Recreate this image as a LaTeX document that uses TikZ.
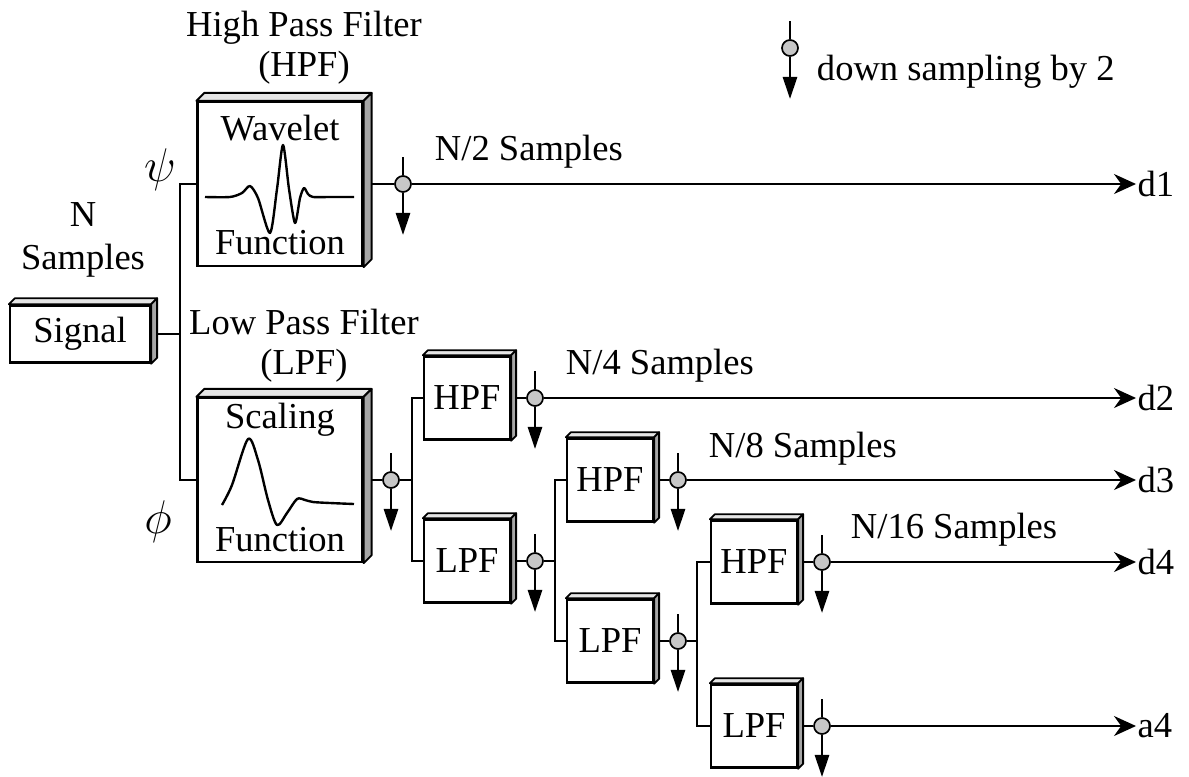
\documentclass[tikz,border=0pt]{standalone}
\usepackage{fontspec}
\setmainfont{Liberation Serif}
\usetikzlibrary{arrows.meta, calc}

\begin{document}
\begin{tikzpicture}[
    x=0.025cm, y=-0.025cm,
    font=\fontsize{26}{31}\selectfont,
    bigbox/.style={rectangle, draw=black, line width=1.6pt, fill=white, minimum width=4.125cm, minimum height=4.1cm, inner sep=0pt},
    smallbox/.style={rectangle, draw=black, line width=1.6pt, fill=white, minimum width=2.15cm, minimum height=2.08cm, inner sep=0pt},
    sigbox/.style={rectangle, draw=black, line width=1.6pt, fill=white, minimum width=3.5cm, minimum height=1.43cm, inner sep=0pt},
    face/.style={draw=black, line width=1.3pt, line join=round, fill=black!10},
    sampler/.style={circle, draw=black, line width=1.2pt, fill=black!22, minimum size=0.4cm, inner sep=0pt},
    line/.style={draw=black, line width=1.3pt},
    outarrow/.style={line, -{Stealth[length=0.55cm, width=0.5cm]}},
    downarrow/.style={line, -{Triangle[length=0.55cm, width=0.36cm]}},
    curve/.style={draw=black, line width=1.7pt, line join=round},
    greek/.style={scale=1.35},
    tag/.style={inner sep=1pt}
]
    \useasboundingbox (0,0) rectangle (1189,776);

    % Filter boxes
    \node[sigbox] (sig) at (80,334) {Signal};
    \node[bigbox] (hpfA) at (280,184) {};
    \node[bigbox] (lpfA) at (280,480) {};
    \node[smallbox] (hpfB) at (467,398) {HPF};
    \node[smallbox] (lpfB) at (467,561) {LPF};
    \node[smallbox] (hpfC) at (610,480) {HPF};
    \node[smallbox] (lpfC) at (610,641) {LPF};
    \node[smallbox] (hpfD) at (754,562) {HPF};
    \node[smallbox] (lpfD) at (754,726) {LPF};

    % Texts inside the big boxes
    \node (wavtxt) at ($(hpfA)+(0,-56)$) {Wavelet};
    \node (wavfn) at ($(hpfA)+(0,59)$) {Function};
    \node (scaltxt) at ($(lpfA)+(0,-60)$) {Scaling};
    \node (scalfn) at ($(lpfA)+(0,60)$) {Function};

    % Wavelet and scaling shapes
    \begin{scope}[shift={(hpfA.center)}]
        \draw[curve] plot[smooth, tension=0.45] coordinates {(-75,13) (-50,13) (-38,9) (-30,2) (-22,14) (-10,49) (-3,5) (3,-39) (9,5) (15,39) (20,14) (24,4) (28,10) (33,13) (50,13) (74,13)};
    \end{scope}
    \begin{scope}[shift={(lpfA.center)}]
        \draw[curve] plot[smooth, tension=0.5] coordinates {(-58,25) (-48,5) (-32,-41) (-22,-20) (-12,20) (-3,45) (7,33) (17,19) (25,20) (33,22) (50,23) (74,24)};
    \end{scope}

    % Headings and labels
    \node (hpftitle) at (304,28) {High Pass Filter};
    \node (hpfabbr) at (304,68) {(HPF)};
    \node (lpftitle) at (304,322) {Low Pass Filter};
    \node (lpfabbr) at (304,366) {(LPF)};
    \node[align=center] (nsamp) at (83,240) {N\\Samples};
    \node[greek] (psi) at (160,170) {$\psi$};
    \node[greek] (phi) at (158,522) {$\phi$};
    \node[anchor=west] (n2) at (430,152) {N/2 Samples};
    \node[anchor=west] (n4) at (561,366) {N/4 Samples};
    \node[anchor=west] (n8) at (704,449) {N/8 Samples};
    \node[anchor=west] (n16) at (846,530) {N/16 Samples};

    % Outputs
    \node[tag, anchor=west] (d1) at (1136,184) {d1};
    \node[tag, anchor=west] (d2) at (1136,398) {d2};
    \node[tag, anchor=west] (d3) at (1136,480) {d3};
    \node[tag, anchor=west] (d4) at (1136,562) {d4};
    \node[tag, anchor=west] (a4) at (1136,726) {a4};

    % Down samplers
    \node[sampler] (dsA) at (403,184) {};
    \node[sampler] (dsAL) at (391,480) {};
    \node[sampler] (dsB) at (535,398) {};
    \node[sampler] (dsBL) at (535,561) {};
    \node[sampler] (dsC) at (678,480) {};
    \node[sampler] (dsCL) at (678,641) {};
    \node[sampler] (dsD) at (822,562) {};
    \node[sampler] (dsDL) at (822,726) {};
    \node[sampler] (dsKey) at (790,48) {};
    \node[anchor=west] (keytxt) at (812,72) {down sampling by 2};

    % Branch points
    \coordinate (busA) at (180,334);
    \coordinate (busB) at (412,480);
    \coordinate (busC) at (555,561);
    \coordinate (busD) at (697,641);

    % Connectors
    \draw[line] (sig.east) -- (busA);
    \draw[line] (hpfA.west) -| (busA) |- (lpfA.west);
    \draw[line] (hpfA.east) -- (dsA.west);
    \draw[outarrow] (dsA.east) -- (d1.west);
    \draw[line] (lpfA.east) -- (dsAL.west);
    \draw[line] (dsAL.east) -- (busB);
    \draw[line] (hpfB.west) -| (busB) |- (lpfB.west);
    \draw[line] (hpfB.east) -- (dsB.west);
    \draw[outarrow] (dsB.east) -- (d2.west);
    \draw[line] (lpfB.east) -- (dsBL.west);
    \draw[line] (dsBL.east) -- (busC);
    \draw[line] (hpfC.west) -| (busC) |- (lpfC.west);
    \draw[line] (hpfC.east) -- (dsC.west);
    \draw[outarrow] (dsC.east) -- (d3.west);
    \draw[line] (lpfC.east) -- (dsCL.west);
    \draw[line] (dsCL.east) -- (busD);
    \draw[line] (hpfD.west) -| (busD) |- (lpfD.west);
    \draw[line] (hpfD.east) -- (dsD.west);
    \draw[outarrow] (dsD.east) -- (d4.west);
    \draw[line] (lpfD.east) -- (dsDL.west);
    \draw[outarrow] (dsDL.east) -- (a4.west);

    \foreach \n in {dsA, dsAL, dsB, dsBL, dsC, dsCL, dsD, dsDL, dsKey} {
        \draw[line] (\n.north) -- ++(0,-18);
        \draw[downarrow] (\n.south) -- ++(0,42);
    }

    % 3D faces of the boxes
    \foreach \n/\d in {sig/6, hpfA/8, lpfA/8, hpfB/5, lpfB/5, hpfC/5, lpfC/5, hpfD/5, lpfD/5} {
        \draw[face] (\n.north west) -- ++(\d,-\d) -- ($(\n.north east)+(\d,-\d)$) -- (\n.north east) -- cycle;
        \draw[face, fill=black!35] (\n.north east) -- ++(\d,-\d) -- ($(\n.south east)+(\d,-\d)$) -- (\n.south east) -- cycle;
    }
\end{tikzpicture}
\end{document}
